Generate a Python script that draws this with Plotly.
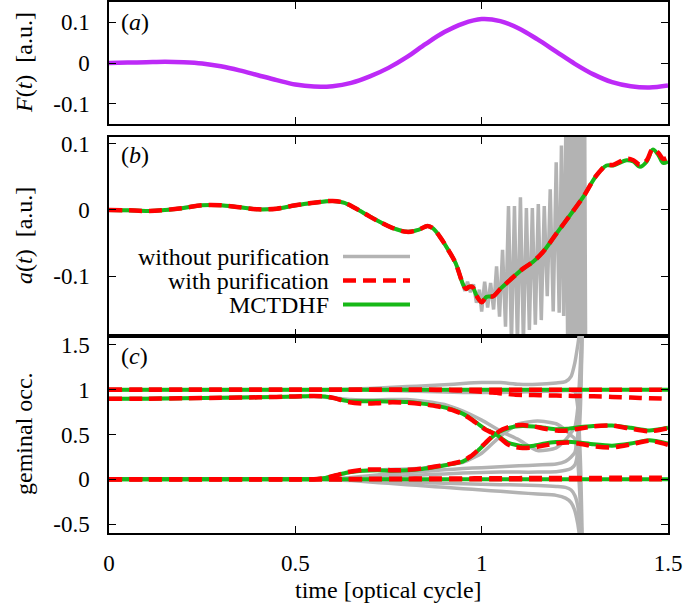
import plotly.graph_objects as go

# ---------------- data ----------------
# panel (a): laser field F(t)
t_F = [0.0, 0.05, 0.1, 0.15, 0.2, 0.25, 0.3, 0.35, 0.4, 0.45, 0.5, 0.55, 0.6, 0.65, 0.7,
       0.75, 0.8, 0.85, 0.9, 0.95, 1.0, 1.05, 1.1, 1.15, 1.2, 1.25, 1.3, 1.35, 1.4, 1.45, 1.5]
F_field = [0.0, 0.001, 0.002, 0.003, 0.002, -0.001, -0.008, -0.018, -0.030, -0.042, -0.053,
           -0.058, -0.057, -0.049, -0.033, -0.012, 0.015, 0.047, 0.076, 0.097, 0.108, 0.103,
           0.085, 0.058, 0.028, -0.002, -0.028, -0.047, -0.057, -0.060, -0.055]

# panel (b): acceleration a(t)
t_a = [0.0, 0.05, 0.1, 0.15, 0.2, 0.25, 0.3, 0.35, 0.4, 0.45, 0.5, 0.55, 0.6, 0.63, 0.66,
       0.7, 0.73, 0.76, 0.8, 0.83, 0.855, 0.87, 0.89, 0.91, 0.93, 0.95, 0.958, 0.966, 0.975,
       0.987, 1.0, 1.013, 1.031, 1.05, 1.085, 1.112, 1.138, 1.165, 1.2, 1.237, 1.273, 1.308,
       1.335, 1.353, 1.389, 1.407, 1.425, 1.443, 1.459, 1.474, 1.487, 1.5]
a_mctdhf = [0.0, -0.0005, -0.0015, 0.0, 0.003, 0.007, 0.007, 0.004, 0.001, 0.002, 0.007,
            0.011, 0.0135, 0.011, 0.003, -0.010, -0.019, -0.027, -0.033, -0.030, -0.024,
            -0.028, -0.042, -0.060, -0.080, -0.112, -0.119, -0.116, -0.116, -0.130, -0.139,
            -0.131, -0.130, -0.119, -0.101, -0.088, -0.078, -0.063, -0.036, -0.008, 0.020,
            0.052, 0.067, 0.067, 0.075, 0.073, 0.065, 0.073, 0.091, 0.083, 0.071, 0.073]
a_pur = [0.0, -0.0005, -0.0015, 0.0, 0.003, 0.007, 0.007, 0.004, 0.001, 0.002, 0.007,
         0.011, 0.0135, 0.011, 0.003, -0.010, -0.019, -0.027, -0.033, -0.030, -0.024,
         -0.028, -0.042, -0.060, -0.080, -0.112, -0.119, -0.116, -0.116, -0.130, -0.139,
         -0.131, -0.130, -0.119, -0.101, -0.088, -0.078, -0.063, -0.036, -0.008, 0.020,
         0.052, 0.067, 0.068, 0.077, 0.075, 0.068, 0.075, 0.092, 0.086, 0.077, 0.079]
# without purification: smooth part up to t=0.93 is shared, then oscillations
t_nopur_osc = [0.940, 0.948, 0.955, 0.962, 0.970, 0.978, 0.986, 0.994, 1.000, 1.008, 1.016,
               1.024, 1.032, 1.040, 1.048, 1.056, 1.064, 1.072, 1.080, 1.088, 1.096, 1.104,
               1.112, 1.120, 1.128, 1.136, 1.144, 1.152, 1.160, 1.168, 1.176, 1.184, 1.192,
               1.200, 1.208, 1.214, 1.220, 1.226, 1.231, 1.236, 1.240, 1.244, 1.248, 1.252,
               1.256, 1.260, 1.264, 1.268, 1.272, 1.276, 1.279]
a_nopur_osc = [-0.096, -0.112, -0.122, -0.108, -0.124, -0.112, -0.140, -0.120, -0.153, -0.108,
               -0.147, -0.110, -0.150, -0.085, -0.161, -0.060, -0.176, 0.006, -0.200, 0.006,
               -0.200, 0.019, -0.200, 0.003, -0.181, 0.003, -0.173, 0.009, -0.166, 0.006,
               -0.130, 0.031, -0.153, 0.072, -0.155, 0.097, -0.160, 0.130, -0.220, 0.200,
               -0.220, 0.200, -0.220, 0.200, -0.220, 0.200, -0.220, 0.200, -0.220, 0.200, -0.220]

# panel (c): geminal occupations
t_c = [0.0, 0.1, 0.2, 0.3, 0.4, 0.5, 0.55, 0.58, 0.61, 0.64, 0.68, 0.72, 0.76, 0.8, 0.84,
       0.88, 0.92, 0.95, 0.97, 0.99, 1.01, 1.025, 1.04, 1.055, 1.07, 1.09, 1.11, 1.14, 1.17,
       1.2, 1.23, 1.26, 1.3, 1.35, 1.4, 1.45, 1.5]
occ_one = [1.0] * 37
occ_zero = [0.0] * 37
mct_upper = [0.90, 0.90, 0.905, 0.91, 0.915, 0.925, 0.93, 0.925, 0.90, 0.875, 0.87, 0.872,
             0.868, 0.862, 0.845, 0.82, 0.78, 0.73, 0.68, 0.62, 0.56, 0.53, 0.50, 0.45,
             0.41, 0.385, 0.37, 0.375, 0.40, 0.415, 0.42, 0.41, 0.39, 0.375, 0.40, 0.435, 0.40]
mct_lower = [0.0, 0.0, 0.0, 0.0, 0.0, 0.0, 0.0, 0.015, 0.045, 0.075, 0.095, 0.10, 0.095, 0.10,
             0.115, 0.14, 0.17, 0.20, 0.25, 0.32, 0.40, 0.46, 0.51, 0.545, 0.57, 0.59, 0.595,
             0.59, 0.575, 0.56, 0.565, 0.58, 0.595, 0.60, 0.575, 0.545, 0.575]
pur_upper = [0.90, 0.90, 0.905, 0.91, 0.915, 0.925, 0.93, 0.925, 0.90, 0.865, 0.845, 0.85,
             0.86, 0.855, 0.84, 0.815, 0.775, 0.725, 0.675, 0.615, 0.555, 0.525, 0.495, 0.44,
             0.39, 0.36, 0.35, 0.355, 0.38, 0.40, 0.41, 0.40, 0.37, 0.355, 0.39, 0.43, 0.385]
pur_lower = [0.0, 0.0, 0.0, 0.0, 0.0, 0.0, 0.0, 0.015, 0.045, 0.08, 0.105, 0.11, 0.10, 0.105,
             0.12, 0.145, 0.175, 0.205, 0.255, 0.325, 0.405, 0.465, 0.515, 0.555, 0.58, 0.60,
             0.605, 0.59, 0.565, 0.545, 0.545, 0.565, 0.59, 0.60, 0.565, 0.535, 0.57]
pur_split = [1.0, 1.0, 1.0, 1.0, 1.0, 1.0, 1.0, 1.0, 1.0, 1.0, 1.0, 1.0, 1.0, 1.0, 1.0, 0.998,
             0.995, 0.99, 0.985, 0.98, 0.975, 0.97, 0.965, 0.958, 0.952, 0.945, 0.942, 0.94,
             0.937, 0.935, 0.932, 0.93, 0.926, 0.92, 0.913, 0.905, 0.90]
pur_zero_b = [0.0, 0.0, 0.0, 0.0, 0.0, 0.0, 0.0, 0.0, 0.0, 0.002, 0.004, 0.005, 0.006, 0.007,
              0.008, 0.009, 0.01, 0.01, 0.01, 0.011, 0.011, 0.011, 0.012, 0.012, 0.012, 0.012,
              0.013, 0.013, 0.013, 0.014, 0.014, 0.015, 0.015, 0.016, 0.016, 0.017, 0.018]

t_g = [0.0, 0.2, 0.4, 0.55, 0.6, 0.65, 0.7, 0.75, 0.8, 0.85, 0.9, 0.95, 1.0, 1.05, 1.1, 1.15,
       1.2, 1.225, 1.24, 1.25, 1.258, 1.265, 1.27]
nopur_occ = [
    [1.0, 1.0, 1.0, 1.0, 1.0, 1.005, 1.015, 1.025, 1.035, 1.045, 1.055, 1.07, 1.08, 1.08, 1.06,
     1.06, 1.075, 1.09, 1.15, 1.3, 1.5, 1.7, 1.8],
    [1.0, 1.0, 1.0, 1.0, 1.0, 1.0, 0.995, 0.99, 0.985, 0.98, 0.975, 0.97, 0.97, 0.97, 0.975,
     0.98, 0.985, 0.99, 0.99, 0.98, 0.8, 0.2, -0.7],
    [0.9, 0.905, 0.915, 0.925, 0.91, 0.89, 0.885, 0.89, 0.89, 0.87, 0.835, 0.76, 0.66, 0.54,
     0.44, 0.32, 0.35, 0.44, 0.52, 0.58, 0.8, 1.3, 1.8],
    [0.0, 0.0, 0.0, 0.0, 0.03, 0.08, 0.10, 0.11, 0.115, 0.13, 0.16, 0.19, 0.29, 0.48, 0.62,
     0.65, 0.62, 0.55, 0.49, 0.45, 0.2, -0.3, -0.8],
    [0.0, 0.0, 0.0, 0.0, 0.005, 0.02, 0.04, 0.06, 0.075, 0.09, 0.105, 0.12, 0.13, 0.14, 0.15,
     0.16, 0.17, 0.2, 0.25, 0.3, 0.5, 1.0, 1.7],
    [0.0, 0.0, 0.0, 0.0, 0.0, 0.01, 0.02, 0.03, 0.04, 0.05, 0.06, 0.07, 0.075, 0.08, 0.08,
     0.08, 0.085, 0.1, 0.12, 0.16, 0.3, 0.8, 1.7],
    [0.0, 0.0, 0.0, 0.0, -0.002, -0.008, -0.015, -0.022, -0.03, -0.038, -0.045, -0.05, -0.055,
     -0.06, -0.065, -0.07, -0.08, -0.09, -0.12, -0.18, -0.3, -0.6, -0.8],
    [0.0, 0.0, 0.0, 0.0, -0.005, -0.015, -0.03, -0.045, -0.06, -0.075, -0.09, -0.105, -0.12,
     -0.135, -0.15, -0.165, -0.18, -0.21, -0.26, -0.35, -0.5, -0.7, -0.8],
]

legend_names = ["without purification", "with purification", "MCTDHF"]
x_ticks = [0, 0.5, 1, 1.5]
x_ticktext = ["0", "0.5", "1", "1.5"]
ya_ticks = [-0.1, 0, 0.1]
ya_ticktext = ["-0.1", "0", "0.1"]
yc_ticks = [-0.5, 0, 0.5, 1, 1.5]
yc_ticktext = ["-0.5", "0", "0.5", "1", "1.5"]

# ---------------- styles ----------------
FONT = "'Liberation Serif', 'Times New Roman', 'DejaVu Serif', serif"
PURPLE = "#bd2af7"
GRAY = "#b3b3b3"
RED = "#ff0000"
GREEN = "#17b817"
DASH = "13px,7px"
W_GRAY, W_RED, W_GREEN = 3.5, 4.5, 4
TICK_SIZE, TEXT_SIZE = 23, 24

W, H = 684, 610
L, R, T, B = 109, 16, 2, 77
PW, PH = W - L - R, H - T - B


def px_x(px):
    return (px - L) / PW


def px_y(py):
    return (H - B - py) / PH


fig = go.Figure()

# (a)
fig.add_trace(go.Scatter(x=t_F, y=F_field, mode="lines", line=dict(color=PURPLE, width=4.5, shape="spline"),
                         xaxis="x", yaxis="y", showlegend=False))

# (b)
n_smooth = t_a.index(0.93) + 1
t_nopur = t_a[:n_smooth] + t_nopur_osc
a_nopur = a_mctdhf[:n_smooth] + a_nopur_osc
fig.add_trace(go.Scatter(x=t_nopur, y=a_nopur, mode="lines", line=dict(color=GRAY, width=W_GRAY),
                         xaxis="x2", yaxis="y2", name=legend_names[0], showlegend=False))
fig.add_trace(go.Scatter(x=t_a, y=a_mctdhf, mode="lines", line=dict(color=GREEN, width=W_GREEN, shape="spline"),
                         xaxis="x2", yaxis="y2", name=legend_names[2], showlegend=False))
fig.add_trace(go.Scatter(x=t_a, y=a_pur, mode="lines", line=dict(color=RED, width=W_RED, dash=DASH, shape="spline"),
                         xaxis="x2", yaxis="y2", name=legend_names[1], showlegend=False))

# (c)
for g in nopur_occ:
    fig.add_trace(go.Scatter(x=t_g, y=g, mode="lines", line=dict(color=GRAY, width=W_GRAY, shape="spline", smoothing=0.6),
                             xaxis="x3", yaxis="y3", showlegend=False))
for s in [occ_one, mct_upper, mct_lower, occ_zero]:
    fig.add_trace(go.Scatter(x=t_c, y=s, mode="lines", line=dict(color=GREEN, width=W_GREEN, shape="spline", smoothing=0.6),
                             xaxis="x3", yaxis="y3", showlegend=False))
for s in [occ_one, pur_split, pur_upper, pur_lower, occ_zero, pur_zero_b]:
    fig.add_trace(go.Scatter(x=t_c, y=s, mode="lines",
                             line=dict(color=RED, width=W_RED, dash=DASH, shape="spline", smoothing=0.6),
                             xaxis="x3", yaxis="y3", showlegend=False))

axis_common = dict(showline=True, linecolor="black", linewidth=1.5, mirror="ticks", ticks="inside",
                   ticklen=7, tickwidth=1.3, tickcolor="black", showgrid=False, zeroline=False,
                   automargin=False, tickfont=dict(family=FONT, size=TICK_SIZE, color="black"))

xcommon = dict(axis_common, range=[0, 1.5], tickvals=x_ticks, ticktext=x_ticktext)
fig.update_layout(
    width=W, height=H,
    margin=dict(l=L, r=R, t=T, b=B, autoexpand=False),
    paper_bgcolor="white", plot_bgcolor="white",
    font=dict(family=FONT, size=TEXT_SIZE, color="black"),
    xaxis=dict(xcommon, anchor="y", showticklabels=False),
    xaxis2=dict(xcommon, anchor="y2", showticklabels=False),
    xaxis3=dict(xcommon, anchor="y3", ticklabelstandoff=9),
    yaxis=dict(axis_common, domain=[px_y(124), px_y(2)], range=[-0.15, 0.15], tickvals=ya_ticks,
               ticktext=ya_ticktext, anchor="x", ticklabelstandoff=13),
    yaxis2=dict(axis_common, domain=[px_y(336), px_y(137)], range=[-0.19, 0.11], tickvals=ya_ticks,
                ticktext=ya_ticktext, anchor="x2", ticklabelstandoff=13),
    yaxis3=dict(axis_common, domain=[0, px_y(336)], range=[-0.6, 1.6], tickvals=yc_ticks,
                ticktext=yc_ticktext, anchor="x3", ticklabelstandoff=13),
    showlegend=False,
)

ann_font = dict(family=FONT, size=TEXT_SIZE, color="black")
annotations = [
    dict(text="(<i>a</i>)", x=px_x(119), y=px_y(22), xanchor="left", yanchor="middle"),
    dict(text="(<i>b</i>)", x=px_x(119), y=px_y(155), xanchor="left", yanchor="middle"),
    dict(text="(<i>c</i>)", x=px_x(119), y=px_y(356), xanchor="left", yanchor="middle"),
    dict(text="<i>F</i>(<i>t</i>)\u00a0\u00a0[a.u.]", x=px_x(24), y=px_y(63), textangle=-90,
         xanchor="center", yanchor="middle"),
    dict(text="<i>a</i>(<i>t</i>)\u00a0\u00a0[a.u.]", x=px_x(24), y=px_y(236), textangle=-90,
         xanchor="center", yanchor="middle"),
    dict(text="geminal occ.", x=px_x(24), y=px_y(434), textangle=-90, xanchor="center", yanchor="middle"),
    dict(text="time [optical cycle]", x=px_x(388), y=px_y(590), xanchor="center", yanchor="middle"),
]
legend_rows = [256.5, 280.5, 304.5]
for name, row in zip(legend_names, legend_rows):
    annotations.append(dict(text=name, x=px_x(331), y=px_y(row), xanchor="right", yanchor="middle"))
for a in annotations:
    a.update(xref="paper", yref="paper", showarrow=False, font=ann_font)
fig.update_layout(annotations=annotations)

legend_styles = [dict(color=GRAY, width=W_GRAY), dict(color=RED, width=W_RED, dash=DASH),
                 dict(color=GREEN, width=W_GREEN)]
for st, row in zip(legend_styles, legend_rows):
    fig.add_shape(type="line", xref="paper", yref="paper", x0=px_x(343), x1=px_x(410),
                  y0=px_y(row), y1=px_y(row), line=st)

fig.write_html("out.html", config={"displayModeBar": False},
               post_script="document.body.style.margin='0';")
